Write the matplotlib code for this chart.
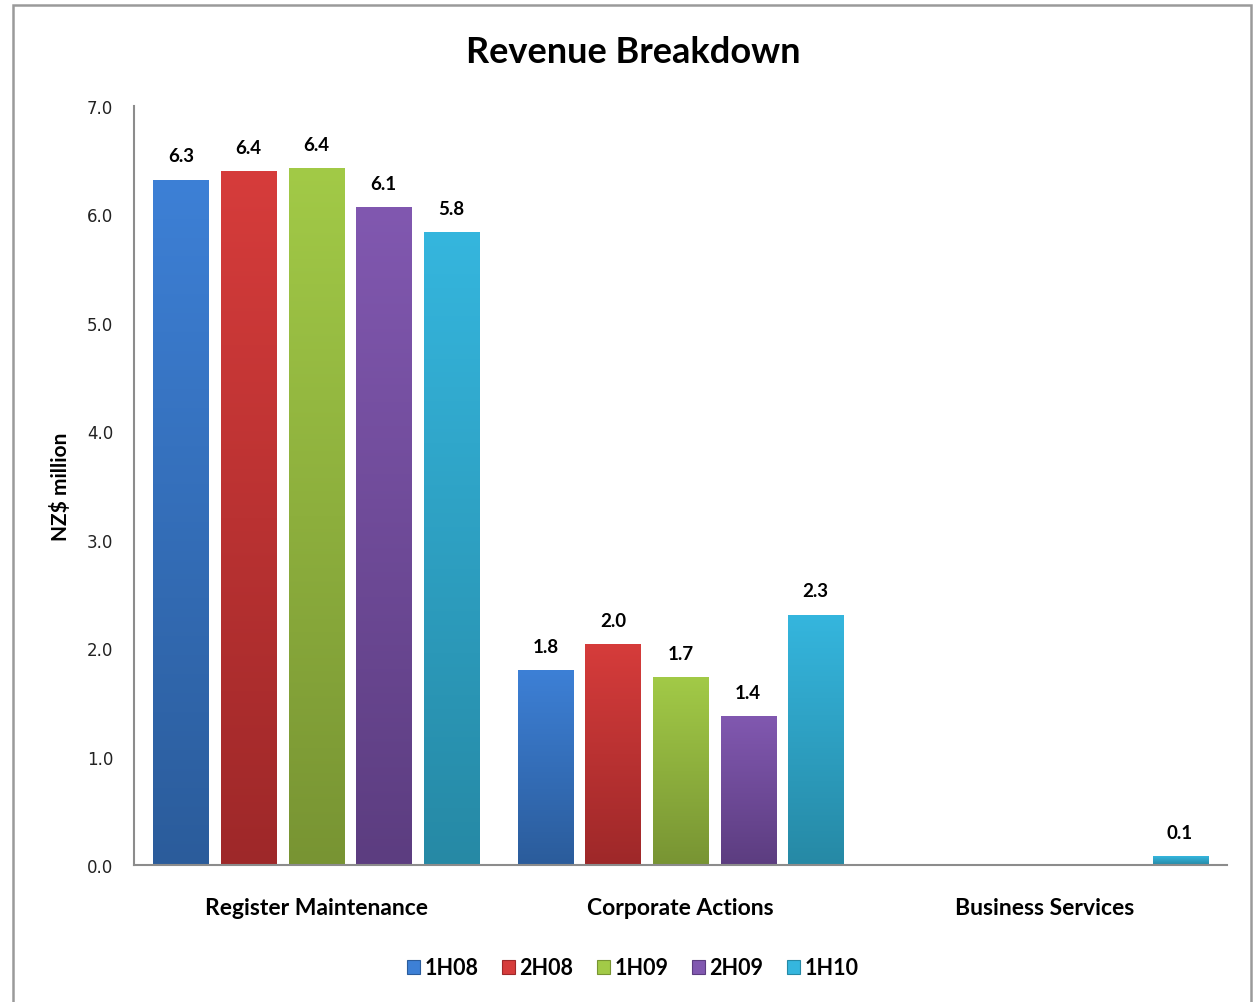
import matplotlib
matplotlib.use("Agg")
import matplotlib.pyplot as plt
import numpy as np
from matplotlib.colors import LinearSegmentedColormap
from matplotlib.patches import Rectangle

# receitas por segmento (NZ$ milhoes)
categorias = ["Register Maintenance", "Corporate Actions", "Business Services"]
periodos = ["1H08", "2H08", "1H09", "2H09", "1H10"]
v_1h08 = [6.32, 1.80, 0.0]
v_2h08 = [6.40, 2.04, 0.0]
v_1h09 = [6.43, 1.73, 0.0]
v_2h09 = [6.07, 1.37, 0.0]
v_1h10 = [5.84, 2.31, 0.08]
valores = [v_1h08, v_2h08, v_1h09, v_2h09, v_1h10]

# cor clara (topo) e escura (base) de cada serie
cores_topo = ["#3d80d6", "#d63c3b", "#a2ca47", "#8158b0", "#35b6de"]
cores_base = ["#2b5c9b", "#9e2829", "#789433", "#5c3d80", "#2689a5"]

fig = plt.figure(figsize=(12.53, 10.03), dpi=100)
ax = fig.add_axes([0.1069, 0.1366, 0.8724, 0.7567])

x = np.arange(len(categorias))
passo = 0.1855
largura = 0.151

handles = []
for i, (nome, vals) in enumerate(zip(periodos, valores)):
    pos = x + (i - 2) * passo
    cmap = LinearSegmentedColormap.from_list(nome, [cores_base[i], cores_topo[i]])
    barras = ax.bar(pos, vals, largura, color="none", edgecolor="none")
    for b, v in zip(barras, vals):
        if v <= 0:
            continue
        x0, y0 = b.get_x(), b.get_y()
        w, h = b.get_width(), b.get_height()
        grad = np.linspace(0, 1, 256).reshape(-1, 1)
        img = ax.imshow(grad, cmap=cmap, origin="lower", aspect="auto",
                        extent=[x0, x0 + w, y0, y0 + h], zorder=2)
        img.set_clip_path(b)
        ax.annotate(f"{v:.1f}", (x0 + w / 2, v), xytext=(0, 11),
                    textcoords="offset points", ha="center", va="bottom",
                    fontsize=13.5, fontweight="bold", family="Lato")
    handles.append(Rectangle((0, 0), 1, 1, facecolor=cores_topo[i],
                             edgecolor=cores_base[i], linewidth=0.8))

ax.set_xlim(-0.5, 2.5)
ax.set_ylim(0, 7)
ax.set_yticks(np.arange(0, 7.01, 1))
ax.set_yticklabels([f"{t:.1f}" for t in np.arange(0, 7.01, 1)],
                   fontsize=12, family="DejaVu Sans", color="#222222")
ax.set_xticks(x)
ax.set_xticklabels(categorias, fontsize=16.5, fontweight="bold", family="Lato")
ax.tick_params(axis="y", length=0, pad=15)
ax.tick_params(axis="x", length=0, pad=23)

for lado in ["top", "right"]:
    ax.spines[lado].set_visible(False)
for lado in ["left", "bottom"]:
    ax.spines[lado].set_color("#8c8c8c")
    ax.spines[lado].set_linewidth(1.5)

ax.set_ylabel("NZ$ million", fontsize=15, fontweight="bold", family="Lato")
ax.yaxis.set_label_coords(-0.058, 0.5)

fig.text(0.505, 0.948, "Revenue Breakdown", ha="center", va="center",
         fontsize=26, fontweight="bold", family="Lato")

fig.legend(handles, periodos, loc="center", bbox_to_anchor=(0.505, 0.034),
           ncol=5, frameon=False, handlelength=0.6, handleheight=0.6,
           handletextpad=0.2, columnspacing=1.1,
           prop={"family": "Lato", "weight": "bold", "size": 15.5})

# moldura externa
fig.patches.append(Rectangle((13 / 1253, -0.01), (1251 - 13) / 1253, 1.01 - 6 / 1003,
                             transform=fig.transFigure, fill=False,
                             edgecolor="#9a9a9a", linewidth=1.8))

plt.savefig("out.png", dpi=100)
